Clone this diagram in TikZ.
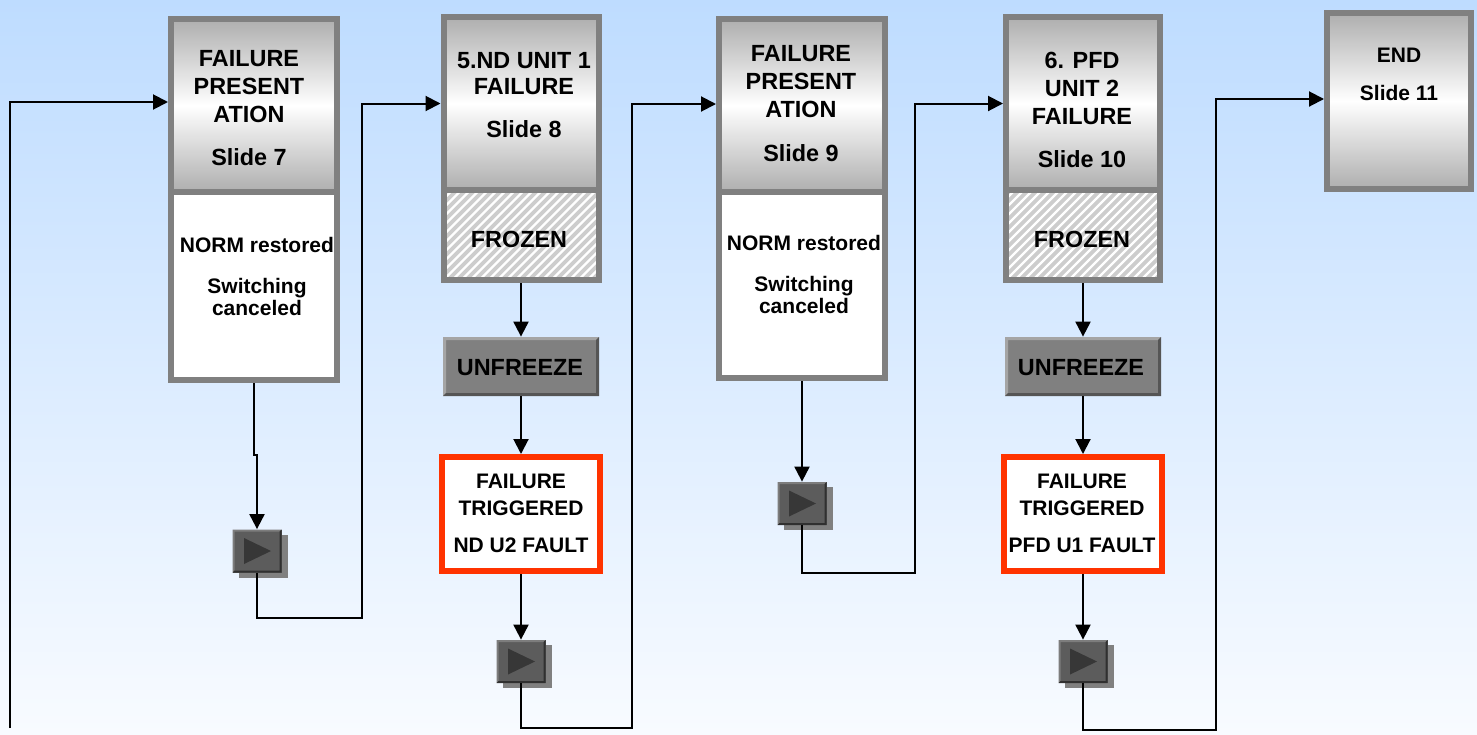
\documentclass[tikz,border=0pt]{standalone}
\usepackage{fontspec}
\setmainfont{Liberation Sans}
\usetikzlibrary{arrows.meta,shadows}
\definecolor{bgtop}{RGB}{190,220,255}
\definecolor{bgbot}{RGB}{248,251,255}
\definecolor{bgray}{RGB}{128,128,128}
\definecolor{hgray}{RGB}{174,174,174}
\definecolor{hatchbg}{RGB}{205,205,205}
\definecolor{btngray}{RGB}{128,128,128}
\definecolor{btnlight}{RGB}{165,165,165}
\definecolor{btndark}{RGB}{85,85,85}
\definecolor{playfill}{RGB}{92,92,92}
\definecolor{playlight}{RGB}{125,125,125}
\definecolor{playdark}{RGB}{48,48,48}
\definecolor{playtri}{RGB}{55,55,55}
\definecolor{redb}{RGB}{255,51,0}
\newcommand\mybevel[3]{%
 \fill[#1] (path picture bounding box.north west) -- (path picture bounding box.north east)
   -- ([xshift=-#3,yshift=-#3]path picture bounding box.north east)
   -- ([xshift=#3,yshift=-#3]path picture bounding box.north west)
   -- ([xshift=#3,yshift=#3]path picture bounding box.south west)
   -- (path picture bounding box.south west) -- cycle;
 \fill[#2] (path picture bounding box.south east) -- (path picture bounding box.north east)
   -- ([xshift=-#3,yshift=-#3]path picture bounding box.north east)
   -- ([xshift=-#3,yshift=#3]path picture bounding box.south east)
   -- ([xshift=#3,yshift=#3]path picture bounding box.south west)
   -- (path picture bounding box.south west) -- cycle;}
\begin{document}
\begin{tikzpicture}[x=0.5pt,y=-0.5pt,
  hdr/.style={draw=bgray, line width=3pt, top color=hgray, bottom color=hgray, middle color=white, inner sep=0},
  lowbox/.style={draw=bgray, line width=3pt, fill=white, inner sep=0},
  frozen/.style={draw=bgray, line width=3pt, fill=hatchbg, inner sep=0,
    path picture={\foreach \k in {-14,...,20} \draw[white,line width=1.1pt] ([xshift=\k*4.5pt]path picture bounding box.south west) -- ++(70pt,70pt);}},
  unfreeze/.style={fill=btngray, inner sep=0, minimum width=78pt, minimum height=29.5pt,
    path picture={\mybevel{btnlight}{btndark}{1.5pt}}},
  redbox/.style={draw=redb, line width=3pt, fill=white, inner sep=0, minimum width=79pt, minimum height=57pt},
  play/.style={fill=playfill, inner sep=0, minimum width=24.5pt, minimum height=21.5pt,
    drop shadow={shadow xshift=3pt,shadow yshift=-2.5pt,fill=bgray,opacity=1},
    path picture={\mybevel{playlight}{playdark}{1pt}
      \fill[playtri] ([xshift=-6.5pt,yshift=6.5pt]path picture bounding box.center)
        -- ([xshift=-6.5pt,yshift=-6.5pt]path picture bounding box.center)
        -- ([xshift=7pt]path picture bounding box.center) -- cycle;}},
  conn/.style={line width=1pt, draw=black},
  arr/.style={conn, -{Triangle[length=7.5pt,width=7.5pt]}},
  hfont/.style={font=\fontsize{11.7}{14}\selectfont\bfseries, align=center, inner sep=0},
  sfont/.style={font=\fontsize{10.5}{13.8}\selectfont\bfseries, align=center, inner sep=0}
]
\useasboundingbox (0,0) rectangle (1477,734);
\shade[top color=bgtop,bottom color=bgbot] (0,0) rectangle (1477,734);

% column 1
\node[hdr, minimum width=83pt, minimum height=86.5pt] (H1) at (254,105.5) {};
\node[lowbox, minimum width=83pt, minimum height=94pt] (L1) at (254,286) {};
\node[play] (P1) at (257,551) {};
% column 2
\node[hdr, minimum width=77.5pt, minimum height=86.5pt] (H2) at (521,103.5) {};
\node[frozen, minimum width=77.5pt, minimum height=45pt] (F2) at (521,235) {};
\node[unfreeze] (U2) at (521,366.5) {};
\node[redbox] (R2) at (521,514) {};
\node[play] (P2) at (521,661.5) {};
% column 3
\node[hdr, minimum width=83pt, minimum height=86.5pt] (H3) at (802,105.5) {};
\node[lowbox, minimum width=83pt, minimum height=93pt] (L3) at (802,285) {};
\node[play] (P3) at (802,503.5) {};
% column 4
\node[hdr, minimum width=77pt, minimum height=86.5pt] (H4) at (1083,103.5) {};
\node[frozen, minimum width=77pt, minimum height=45pt] (F4) at (1083,235) {};
\node[unfreeze] (U4) at (1083,366.5) {};
\node[redbox] (R4) at (1083,514) {};
\node[play] (P4) at (1083,661.5) {};
% end
\node[hdr, minimum width=72pt, minimum height=88pt] (H5) at (1399,101) {};

% texts
\node[hfont] (T1) at (249,108) {FAILURE\\PRESENT\\ATION\\[7.8pt]Slide 7};
\node[font=\fontsize{10.5}{11}\selectfont\bfseries, align=center, inner sep=0] (T1b) at (257,276) {NORM restored\\[9.5pt]Switching\\canceled};
\node[hfont] (T2) at (524,95) {5.ND UNIT 1\\[-1.2pt]FAILURE\\[7.7pt]Slide 8};
\node[hfont] (T2f) at (519,239.5) {FROZEN};
\node[hfont] (T2u) at (520,368) {UNFREEZE};
\node[sfont] (T2r) at (521,513) {FAILURE\\TRIGGERED\\[4.5pt]ND U2 FAULT};
\node[hfont] (T3) at (801,103.5) {FAILURE\\PRESENT\\ATION\\[7.8pt]Slide 9};
\node[font=\fontsize{10.5}{11}\selectfont\bfseries, align=center, inner sep=0] (T3b) at (804,274) {NORM restored\\[9.5pt]Switching\\canceled};
\node[hfont] (T4) at (1082,110) {6. PFD\\UNIT 2\\FAILURE\\[7.7pt]Slide 10};
\node[hfont] (T4f) at (1082,239) {FROZEN};
\node[hfont] (T4u) at (1081,368) {UNFREEZE};
\node[sfont] (T4r) at (1082,513) {FAILURE\\TRIGGERED\\[4.5pt]PFD U1 FAULT};
\node[sfont] (T5) at (1399,74.2) {END\\[5.4pt]Slide 11};

% connectors
\coordinate (c0) at (10,728);
\coordinate (j1) at (362,618);
\coordinate (j2) at (632,728);
\coordinate (j3) at (915,573);
\coordinate (j4) at (1216,730);
\draw[arr] (c0) |- ([yshift=1.75pt]H1.west);
\draw[arr] (L1.south) -- (L1.south |- 0,455) -| (P1.north);
\draw[arr] (P1.south) |- (j1) |- (H2.west);
\draw[arr] (F2.south) -- (U2.north);
\draw[arr] (U2.south) -- (R2.north);
\draw[arr] (R2.south) -- (P2.north);
\draw[arr] (P2.south) |- (j2) |- ([yshift=0.75pt]H3.west);
\draw[arr] (L3.south) -- (P3.north);
\draw[arr] (P3.south) |- (j3) |- (H4.west);
\draw[arr] (F4.south) -- (U4.north);
\draw[arr] (U4.south) -- (R4.north);
\draw[arr] (R4.south) -- (P4.north);
\draw[arr] (P4.south) |- (j4) |- ([yshift=1pt]H5.west);
\end{tikzpicture}
\end{document}
